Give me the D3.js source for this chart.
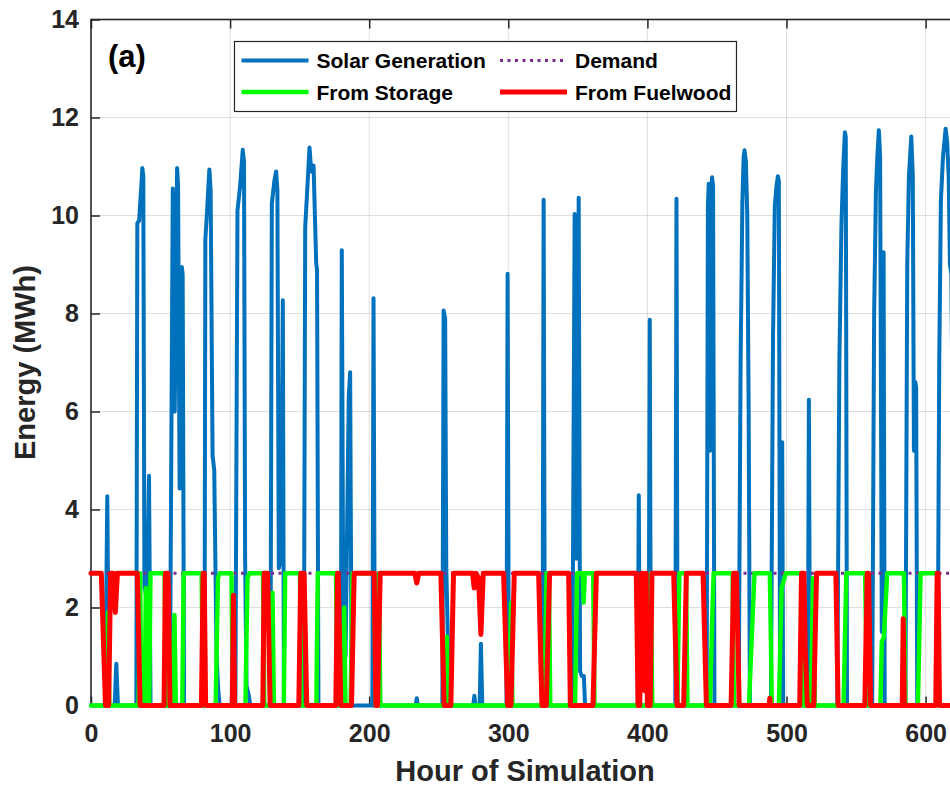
<!DOCTYPE html>
<meta charset="utf-8">
<style>
body { margin: 0; background: #fff; font-family: "Liberation Sans", Arial, sans-serif; }
.tick text { font-size: 25px; font-weight: bold; fill: #262626; font-family: "Liberation Sans", Arial, sans-serif; }
.tick line { stroke: #262626; stroke-width: 1.5; }
.grid line { stroke: #262626; stroke-opacity: 0.15; stroke-width: 1; }
.series { fill: none; stroke-linejoin: round; }
</style>
<body>
<script src="https://cdn.jsdelivr.net/npm/d3@7"></script>
<script>

// ---- data (hour, MWh) ----
var xTicks = [0, 100, 200, 300, 400, 500, 600];
var yTicks = [0, 2, 4, 6, 8, 10, 12, 14];
var hourRange = [0, 624];
var demandMWh = 2.7;

var solarPts = [
  [0,0],[10.2,0],[11.7,4.27],[13,0],[17,0],[18.2,0.85],[19.4,0],
  [32.6,0],[33.3,9.84],[34.6,9.9],[36.4,10.7],[36.9,10.97],[37.6,10.8],[38.4,2.4],[40.3,2.2],[41.7,4.69],[42.8,0],
  [56.7,0],[58.8,10.55],[60.2,6.0],[61.9,10.97],[62.6,10.6],[63.7,4.43],[65.3,8.95],[65.9,8.8],[66.9,0],
  [81.6,0],[82.2,9.5],[83.6,10.17],[85.1,10.94],[86.0,10.5],[87.4,5.1],[88.6,4.8],[89.3,3.2],[90.3,1.0],[91.5,0.3],[92.5,0],
  [103.8,0],[105.3,10.1],[107.2,10.6],[109.1,11.34],[110.0,11.1],[110.8,3],[111.8,0.4],[113.5,0.2],[114.5,0],
  [129,0],[130,10.24],[131.8,10.7],[133.1,10.9],[134,10.5],[135,2.8],[136.6,3.0],[137.9,8.27],[138.7,0],
  [153,0],[154,9.76],[155.6,10.6],[157.1,11.39],[158.3,10.9],[160,11.02],[161.9,9.02],[162.5,8.9],[163.5,0],
  [179.6,0],[180.3,9.29],[181.3,2.2],[183,1.0],[185.3,6.3],[186.3,6.8],[187.4,0],
  [202.3,0],[203.1,8.31],[204.1,0],
  [233.4,0],[234.2,0.15],[235,0],
  [252.6,0],[253.5,8.06],[254.6,7.9],[255.4,2.85],[256.5,1.4],[257.6,0],
  [274.8,0],[275.6,0.2],[276.4,0],[279.4,0],[280.3,1.26],[281.3,0],
  [298.7,0],[299.5,8.81],[300.4,0],
  [324.6,0],[325.4,10.32],[326.3,0],
  [346,0],[347.7,10.03],[349,3.0],[350.6,10.36],[351.6,0.7],[352.8,0.6],[354.3,0.6],[355.2,0],
  [393,0],[393.8,4.29],[394.6,0],[400.9,0],[401.7,7.87],[402.5,0],
  [420.1,0],[420.9,10.34],[421.7,0],
  [442.6,0],[443.5,10.2],[444.1,10.65],[445,5.2],[445.8,10.5],[446.5,10.78],[447.2,10.6],[448.2,0],
  [465.6,0],[467,7.0],[468.3,10.3],[469.2,11.2],[469.8,11.33],[470.8,11.1],[471.8,10.0],[472.8,6.0],[473.7,0],
  [488.8,0],[490.3,7.5],[491.6,10.2],[492.8,10.6],[493.8,10.8],[494.5,10.7],[495.3,1.0],[496.9,5.37],[497.6,0],
  [515.3,0],[516.1,6.24],[516.9,0],
  [536.5,0],[538,7.0],[539.5,9.8],[540.8,11.0],[542,11.7],[542.6,11.6],[543.5,0],
  [561.6,0],[563,8.0],[564.3,10.5],[565.3,11.2],[566.4,11.74],[567.3,11.2],[568.5,1.5],[569.8,9.25],[570.6,0],
  [585.5,0],[586.8,9.0],[588,10.8],[589.7,11.61],[590.8,10.8],[591.6,5.2],[592.6,6.6],[593.2,6.5],[594,0],
  [608.6,0],[609.8,7.0],[611,10.3],[612.5,11.2],[614.4,11.77],[615.5,11.5],[616.6,10.8],[617.5,9.0],[618.5,8.8],[620,4],[621,0],[624,0]
];

var storagePts = [
  [0,0],[10.8,0],[12.2,1.9],[13.2,0],
  [34.2,0],[35.3,2.7],[36.2,0],[38.6,0],[39.4,2.4],[40.3,0],[41.8,0],[42.8,2.7],[52.9,2.7],[53.7,0],
  [58.2,0],[60,1.85],[61,0],[65.6,0],[66.6,2.7],[79.5,2.7],[80.6,0],
  [89.6,0],[91.3,2.6],[92.6,2.7],[101,2.7],[102,0],
  [111,0],[112.5,2.6],[114,2.7],[123.6,2.7],[124.6,0],
  [129.5,0],[130.5,2.3],[131.5,0],[138.6,0],[139.6,2.7],[150.2,2.7],[151.2,0],
  [162,0],[163,2.7],[176.1,2.7],[177.1,0],
  [181,0],[182,2.0],[183,0],[186.6,0],[188,2.7],[203.6,2.7],[204.6,0],[206,0],[207,2.7],[208,0],
  [254.4,0],[255.8,1.4],[257,0],
  [300.6,0],[302,2.1],[303,0],
  [326,0],[327.5,2.7],[329.2,2.7],[330.2,0],
  [348,0],[349.5,2.7],[353.5,2.7],[354.2,2.1],[355,2.7],[361,2.7],[362,0],
  [401.4,0],[402.5,2.7],[403.5,0],
  [421.5,0],[423,2.7],[427.8,2.7],[428.8,0],
  [445,0],[446.5,1.7],[447.6,2.7],[461.2,2.7],[462.2,0],
  [473,0],[477,2.7],[488,2.7],[489.5,0],[494.5,0],[496.5,2.4],[499.5,2.7],[511,2.7],[512,0],
  [517.6,0],[519,2.6],[520.4,0],
  [541,0],[543,2.7],[556.5,2.7],[558,0],
  [567.5,0],[568.5,1.3],[570,1.4],[572.4,2.7],[584.4,2.7],[585.5,0],
  [594.5,0],[596.4,2.7],[608.4,2.7],[609.5,0],[624,0]
];

var fuelwoodPts = [
  [0,2.7],[7.4,2.7],[10.4,0],[12.7,0],[14.1,2.7],[16,2.7],[17.5,1.9],[19,2.7],[33.3,2.7],[35.3,0],
  [52.5,0],[53.5,2.7],[55.4,2.7],[56.8,0],
  [79.4,0],[80.6,2.7],[81.4,2.7],[82.4,0],
  [101.6,0],[102.4,2.25],[103.2,0],
  [123.5,0],[124.5,2.7],[126.9,2.7],[128.8,0],
  [149.4,0],[150.8,2.7],[153.2,2.7],[155.1,0],
  [176,0],[177.2,2.7],[177.7,2.7],[179.6,0],
  [187.3,0],[189.2,2.7],[203.6,2.7],[204.8,0],[206,0],[207.9,2.7],
  [232.8,2.7],[234.2,2.5],[235.6,2.7],[251.5,2.7],[253.9,0],[258.7,0],[260.6,2.7],
  [274.3,2.7],[275.5,2.4],[276.8,2.7],[278.6,2.6],[280.3,1.45],[282,2.7],[296.6,2.7],[299.5,0],[301.9,0],[304.3,2.7],
  [321.8,2.7],[324.2,0],[327.3,0],[329.7,2.7],[343.4,2.7],[344.6,0],[360.9,0],[363.3,2.7],
  [392,2.7],[393.3,0],[394.5,0],[395.8,2.7],[396.8,2.7],[398,0.3],[399,2.7],[400,0],[402,0],[403.3,2.7],
  [418.9,2.7],[421.3,0],[426.1,0],[428,2.7],[440,2.7],[442.4,0],[460.2,0],[462,2.7],[464,2.7],[466,0],
  [487.5,0],[488,0.15],[488.5,0],
  [509.5,0],[510.8,2.7],[512.5,2.7],[513.5,1.1],[515,0],[519.6,0],[521.6,2.7],[535.5,2.7],[537.1,0],
  [556.3,0],[558,2.7],[559,2.7],[560.5,0],
  [583.2,0],[583.9,1.77],[584.7,0],
  [607.3,0],[608.3,2.7],[609,2.7],[610,0],[624,0]
];

var demandPts = hourRange.map(function(h) { return [h, demandMWh]; });

// ---- layout ----
var W = 950, H = 787;
var plotL = 91, plotT = 19.5, plotB = 705.5;
var plotR = plotL + 1.391 * hourRange[1];   // right spine falls just outside the window

var x = d3.scaleLinear().domain(hourRange).range([plotL, plotR]);
var y = d3.scaleLinear().domain([0, 14]).range([plotB, plotT]);

var svg = d3.select("body").append("svg")
    .attr("width", W)
    .attr("height", H);

// grid
var grid = svg.append("g").attr("class", "grid");
grid.selectAll(".gx").data(xTicks.slice(1)).enter().append("line")
    .attr("x1", function(d) { return x(d); }).attr("x2", function(d) { return x(d); })
    .attr("y1", plotT).attr("y2", plotB);
grid.selectAll(".gy").data(yTicks.slice(1, -1)).enter().append("line")
    .attr("x1", plotL).attr("x2", plotR)
    .attr("y1", function(d) { return y(d); }).attr("y2", function(d) { return y(d); });

// axes (ticks inward like MATLAB)
var xAxis = svg.append("g")
    .attr("transform", "translate(0," + plotB + ")")
    .call(d3.axisBottom(x).tickValues(xTicks).tickSize(-9).tickPadding(19).tickFormat(d3.format("d")));
var xAxisTop = svg.append("g")
    .attr("transform", "translate(0," + plotT + ")")
    .call(d3.axisTop(x).tickValues(xTicks).tickSize(-9).tickFormat(""));
var yAxis = svg.append("g")
    .attr("transform", "translate(" + plotL + ",0)")
    .call(d3.axisLeft(y).tickValues(yTicks).tickSize(-9).tickPadding(12).tickFormat(d3.format("d")));
[xAxis, xAxisTop, yAxis].forEach(function(g) { g.select(".domain").remove(); });

// box
svg.append("rect")
    .attr("x", plotL).attr("y", plotT)
    .attr("width", plotR - plotL).attr("height", plotB - plotT)
    .attr("fill", "none").attr("stroke", "#262626").attr("stroke-width", 1.6);

// series
var line = d3.line()
    .x(function(d) { return x(d[0]); })
    .y(function(d) { return y(d[1]); });

var series = [
  {name: "Solar Generation", pts: solarPts,    color: "#0072BD", width: 4,   dash: null},
  {name: "Demand",           pts: demandPts,   color: "#7E2F8E", width: 3,   dash: "3,4.5"},
  {name: "From Storage",     pts: storagePts,  color: "#00FF00", width: 4.4, dash: null},
  {name: "From Fuelwood",    pts: fuelwoodPts, color: "#FF0000", width: 5,   dash: null}
];

svg.selectAll(".series").data(series).enter().append("path")
    .attr("class", "series")
    .attr("d", function(d) { return line(d.pts); })
    .attr("stroke", function(d) { return d.color; })
    .attr("stroke-width", function(d) { return d.width; })
    .attr("stroke-linecap", function(d) { return d.dash ? "butt" : "round"; })
    .attr("stroke-dasharray", function(d) { return d.dash; });

// legend (2 columns, row-wise)
var legend = svg.append("g");
legend.append("rect")
    .attr("x", 234.5).attr("y", 41.5)
    .attr("width", 502).attr("height", 70)
    .attr("fill", "#fff").attr("stroke", "#262626").attr("stroke-width", 1.2);

var legPos = [[241.5, 60.5], [500, 60.5], [241.5, 92], [500, 92]];
var item = legend.selectAll(".item").data(series).enter().append("g")
    .attr("transform", function(d, i) { return "translate(" + legPos[i][0] + "," + legPos[i][1] + ")"; });
item.append("line")
    .attr("x1", 0).attr("x2", 67)
    .attr("stroke", function(d) { return d.color; })
    .attr("stroke-width", function(d) { return d.width; })
    .attr("stroke-dasharray", function(d) { return d.dash; });
item.append("text")
    .attr("x", 75).attr("y", 7.5)
    .style("font-size", "21px").style("font-weight", "bold")
    .text(function(d) { return d.name; });

// labels
svg.append("text")
    .attr("x", (plotL + plotR) / 2).attr("y", 781)
    .attr("text-anchor", "middle")
    .style("font-size", "29px").style("font-weight", "bold").style("fill", "#262626")
    .text("Hour of Simulation");

svg.append("text")
    .attr("transform", "translate(35," + ((plotT + plotB) / 2) + ") rotate(-90)")
    .attr("text-anchor", "middle")
    .style("font-size", "29px").style("font-weight", "bold").style("fill", "#262626")
    .text("Energy (MWh)");

svg.append("text")
    .attr("x", 108).attr("y", 67)
    .style("font-size", "31px").style("font-weight", "bold")
    .text("(a)");

</script>
</body>
